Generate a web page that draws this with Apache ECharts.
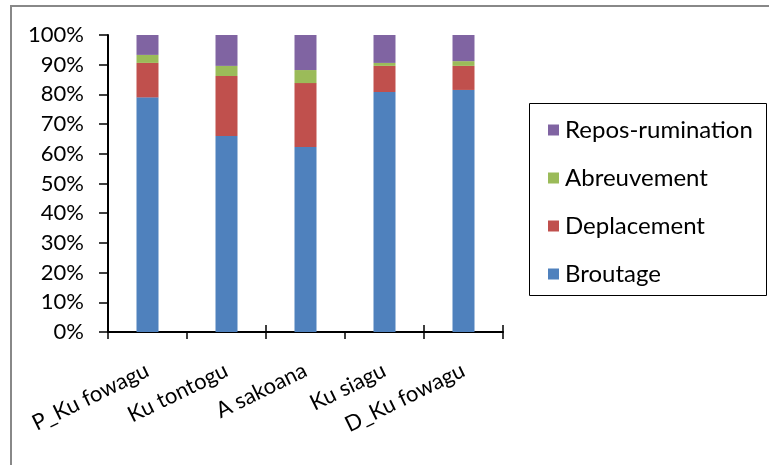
<!DOCTYPE html>
<html>
<head>
<meta charset="utf-8">
<script src="https://cdn.jsdelivr.net/npm/echarts@6/dist/echarts.min.js"></script>
<style>
html,body{margin:0;padding:0;background:#fff;}
#chart{width:769px;height:465px;}
</style>
</head>
<body>
<div id="chart"></div>
<script>
var categories = ['P_Ku fowagu', 'Ku tontogu', 'A sakoana', 'Ku siagu', 'D_Ku fowagu'];
var broutage = [79.0, 66.0, 62.3, 80.8, 81.5];
var deplacement = [11.6, 20.2, 21.5, 8.8, 8.1];
var abreuvement = [2.7, 3.4, 4.4, 1.0, 1.6];
var repos = [6.7, 10.4, 11.8, 9.4, 8.8];
var seriesNames = ['Broutage', 'Deplacement', 'Abreuvement', 'Repos-rumination'];
var seriesColors = ['#4F81BD', '#C0504D', '#9BBB59', '#8064A2'];
var seriesData = [broutage, deplacement, abreuvement, repos];

var FONT = 'Lato';
var chart = echarts.init(document.getElementById('chart'));
var series = seriesNames.map(function (name, i) {
  return {
    name: name,
    type: 'bar',
    stack: 'total',
    barWidth: 22,
    xAxisIndex: 0,
    itemStyle: { color: seriesColors[i] },
    data: seriesData[i]
  };
});
chart.setOption({
  animation: false,
  textStyle: { fontFamily: FONT },
  grid: { left: 108, right: 266, top: 35, bottom: 133, containLabel: false },
  legend: {
    orient: 'vertical',
    left: 543,
    top: 113,
    itemWidth: 11,
    itemHeight: 11,
    itemGap: 24,
    icon: 'rect',
    data: seriesNames.slice().reverse(),
    textStyle: { fontFamily: FONT, fontSize: 24, color: '#000', lineHeight: 24, padding: [0, 0, 0, 1] }
  },
  xAxis: [{
    type: 'category',
    data: categories,
    axisLine: { lineStyle: { color: '#000', width: 2 } },
    axisTick: { show: true, length: 7, lineStyle: { color: '#000', width: 1.5 } },
    axisLabel: { rotate: 26, fontSize: 22, color: '#000', fontFamily: FONT, margin: 37, interval: 0 }
  }, {
    type: 'category',
    data: categories,
    position: 'bottom',
    axisLine: { show: false },
    axisTick: { show: true, inside: true, length: 7, lineStyle: { color: '#000', width: 1.5 } },
    axisLabel: { show: false }
  }],
  yAxis: {
    type: 'value',
    min: 0,
    max: 100,
    interval: 10,
    splitLine: { show: false },
    axisLine: { show: true, lineStyle: { color: '#000', width: 2 } },
    axisTick: { show: true, length: 9, lineStyle: { color: '#000', width: 1.5 } },
    axisLabel: { formatter: '{value}%', fontSize: 22, color: '#000', fontFamily: FONT, margin: 24 }
  },
  graphic: [{
    type: 'rect',
    shape: { x: 11, y: 6, width: 800, height: 500 },
    style: { fill: null, stroke: '#888', lineWidth: 2 },
    silent: true
  }, {
    type: 'rect',
    shape: { x: 529.5, y: 103.5, width: 237, height: 192 },
    style: { fill: null, stroke: '#000', lineWidth: 1 },
    silent: true
  }],
  series: series
});
</script>
</body>
</html>
